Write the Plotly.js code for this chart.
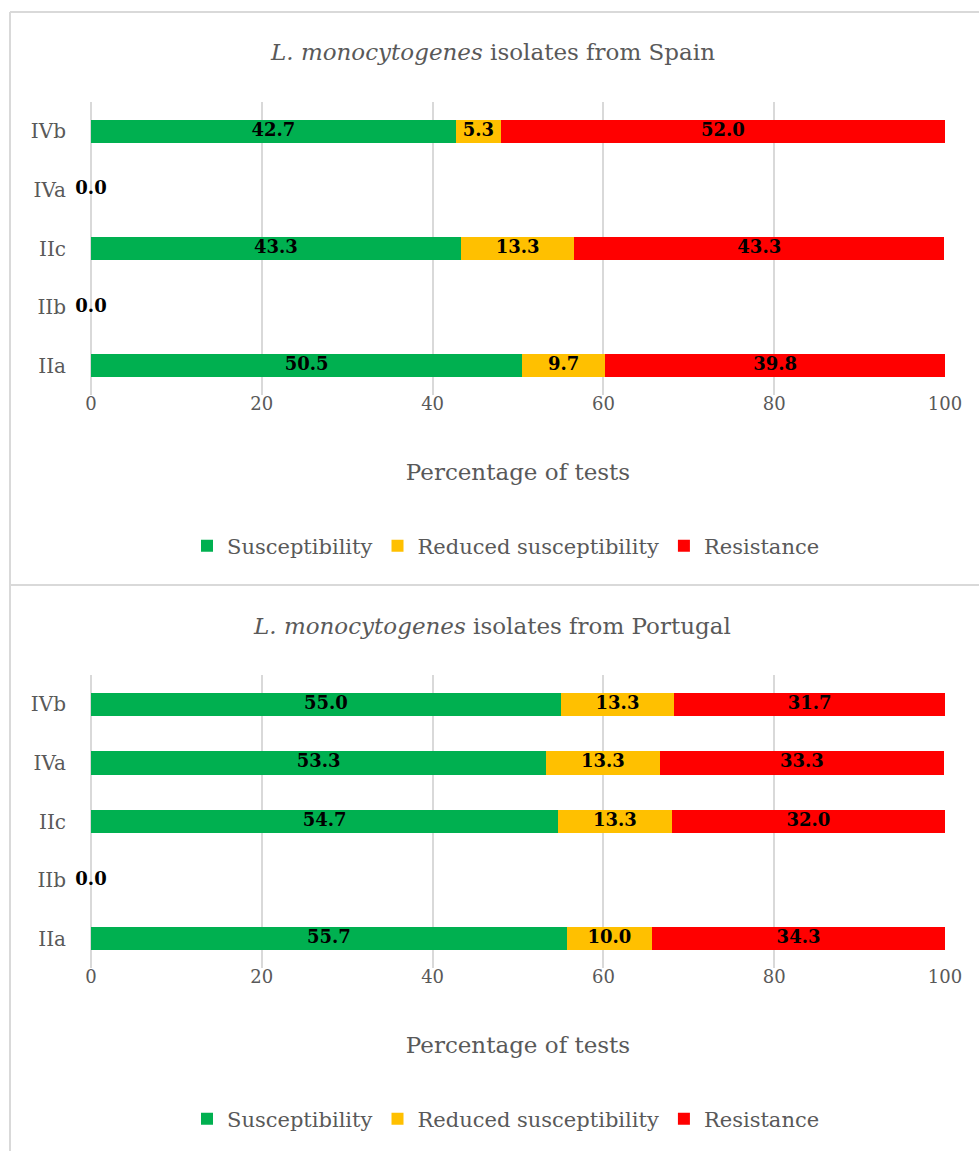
<!DOCTYPE html>
<html>
<head>
<meta charset="utf-8">
<script src="https://cdn.plot.ly/plotly-3.0.1.min.js"></script>
<style>
  html, body { margin: 0; padding: 0; background: #fff; }
  #chart { width: 979px; height: 1151px; }
</style>
</head>
<body>
<div id="chart"></div>
<script>
// Serotypes (bottom to top) and outcome categories
const serotypes = ['IIa', 'IIb', 'IIc', 'IVa', 'IVb'];
const outcomes = ['Susceptibility', 'Reduced susceptibility', 'Resistance'];
const outcomeColors = ['#00B050', '#FFC000', '#FF0000'];

// Percentage of tests per serotype, Spain
const spainSusceptible = [50.5, 0.0, 43.3, 0.0, 42.7];
const spainReduced     = [9.7, 0.0, 13.3, 0.0, 5.3];
const spainResistant   = [39.8, 0.0, 43.3, 0.0, 52.0];

// Percentage of tests per serotype, Portugal
const portugalSusceptible = [55.7, 0.0, 54.7, 53.3, 55.0];
const portugalReduced     = [10.0, 0.0, 13.3, 13.3, 13.3];
const portugalResistant   = [34.3, 0.0, 32.0, 33.3, 31.7];

const W = 979, H = 1151;
const px = v => v / W;          // horizontal pixel -> paper
const py = v => 1 - v / H;      // vertical pixel -> paper

const FONT = 'DejaVu Serif, Liberation Serif, serif';
const GREY = '#595959';
const LINE = '#D9D9D9';

function panelTraces(series, yaxis, legend) {
  const xaxis = yaxis === 'y' ? 'x' : 'x2';
  const traces = [];
  series.forEach((vals, i) => {
    traces.push({
      type: 'bar', orientation: 'h',
      x: vals, y: serotypes,
      name: outcomes[i],
      marker: { color: outcomeColors[i] },
      xaxis: xaxis, yaxis: yaxis,
      legend: legend,
      hoverinfo: 'x+name'
    });
  });
  // data labels at the middle of each segment; an empty row gets a single 0.0
  const lx = [], ly = [], lt = [];
  serotypes.forEach((s, k) => {
    const total = series.reduce((a, v) => a + v[k], 0);
    if (total === 0) {
      lx.push(0); ly.push(s); lt.push(total.toFixed(1));
      return;
    }
    let start = 0;
    series.forEach(vals => {
      lx.push(start + vals[k] / 2); ly.push(s); lt.push(vals[k].toFixed(1));
      start += vals[k];
    });
  });
  traces.push({
    type: 'scatter', mode: 'text',
    x: lx, y: ly, text: lt,
    textfont: { family: FONT, size: 18, color: '#000', weight: 'bold' },
    textposition: 'middle center',
    cliponaxis: false, showlegend: false, hoverinfo: 'skip',
    xaxis: xaxis, yaxis: yaxis
  });
  return traces;
}

const data = [
  ...panelTraces([spainSusceptible, spainReduced, spainResistant], 'y', 'legend'),
  ...panelTraces([portugalSusceptible, portugalReduced, portugalResistant], 'y2', 'legend2')
];

function xAxis(anchor) {
  return {
    domain: [px(91), px(945)], anchor: anchor,
    range: [0, 100], dtick: 20, tick0: 0,
    showgrid: true, gridcolor: LINE, gridwidth: 1.5,
    zeroline: true, zerolinecolor: LINE, zerolinewidth: 1.5,
    showline: false, ticks: '',
    ticklabelstandoff: -4,
    tickfont: { family: FONT, size: 18, color: GREY },
    title: { text: 'Percentage of tests', font: { family: FONT, size: 23, color: GREY }, standoff: 50 },
    automargin: false, fixedrange: true
  };
}
function yAxis(top, bottom, anchor) {
  return {
    domain: [py(bottom), py(top)], anchor: anchor,
    type: 'category', categoryorder: 'array', categoryarray: serotypes,
    showgrid: false, zeroline: false, showline: false, ticks: '',
    ticklabelstandoff: 24,
    tickfont: { family: FONT, size: 20, color: GREY },
    automargin: false, fixedrange: true
  };
}
function legendAt(y) {
  return {
    orientation: 'h', x: px(506), xanchor: 'center', y: py(y), yanchor: 'middle',
    font: { family: FONT, size: 21, color: GREY },
    itemclick: false, itemdoubleclick: false, traceorder: 'normal'
  };
}

const title = (text, y) => ({
  text: text, xref: 'paper', yref: 'paper', x: px(492), y: py(y),
  xanchor: 'center', yanchor: 'middle', showarrow: false,
  font: { family: FONT, size: 23, color: GREY }
});

const border = (x0, y0, x1, y1) => ({
  type: 'line', xref: 'paper', yref: 'paper',
  x0: px(x0), y0: py(y0), x1: px(x1), y1: py(y1),
  line: { color: LINE, width: 2 }
});

const layout = {
  width: W, height: H,
  margin: { l: 0, r: 0, t: 0, b: 0 },
  paper_bgcolor: '#fff', plot_bgcolor: '#fff',
  barmode: 'stack', bargap: 0.6,
  showlegend: true,
  xaxis: xAxis('y'),
  yaxis: yAxis(102, 395, 'x'),
  xaxis2: xAxis('y2'),
  yaxis2: yAxis(675, 968, 'x2'),
  legend: legendAt(546),
  legend2: legendAt(1119),
  annotations: [
    title('<i>L. monocytogenes</i> isolates from Spain', 52),
    title('<i>L. monocytogenes</i> isolates from Portugal', 626)
  ],
  shapes: [
    border(10, 12, 979, 12),
    border(10, 12, 10, 1151),
    border(10, 585, 979, 585)
  ]
};

Plotly.newPlot('chart', data, layout, { displayModeBar: false });
</script>
</body>
</html>
